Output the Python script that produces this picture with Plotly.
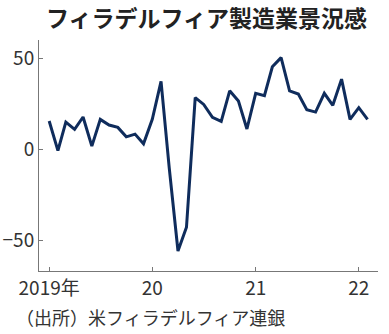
import plotly.graph_objects as go
import pandas as pd

months = pd.date_range("2019-01-01", periods=38, freq="MS").strftime("%Y-%m-%d").tolist()
values = [15.8, -0.5, 15.2, 11.2, 18.0, 2.0, 16.7, 13.6, 12.3, 7.1, 8.6, 3.3,
          16.7, 37.6, -10.0, -55.6, -42.6, 28.6, 24.9, 17.8, 15.6, 32.4, 26.8, 11.4,
          31.0, 29.7, 45.6, 50.6, 32.3, 30.6, 22.0, 20.7, 31.0, 24.4, 38.8, 16.7,
          23.1, 16.7]
tick_vals = ["2019-01-01", "2020-01-01", "2021-01-01", "2022-01-01"]
tick_text = ["2019年", "20", "21", "22"]
y_ticks = [-50, 0, 50]

title_text = "フィラデルフィア製造業景況感"
source_text = "（出所）米フィラデルフィア連銀"

font_family = "Liberation Sans Narrow, Noto Sans CJK JP, sans-serif"

W, H = 389, 334
L, R, T, B = 39, 11, 40, 63
pw, ph = W - L - R, H - T - B
def px(x): return (x - L) / pw
def py(y): return (H - B - y) / ph

fig = go.Figure()
fig.add_trace(go.Scatter(x=months, y=values, mode="lines",
                         line=dict(color="#0f2c5c", width=3), hoverinfo="skip"))

fig.update_layout(
    width=W, height=H,
    margin=dict(l=L, r=R, t=T, b=B, autoexpand=False),
    paper_bgcolor="white", plot_bgcolor="white",
    showlegend=False,
    font=dict(family=font_family, color="#333333", size=18),
    xaxis=dict(
        type="date", automargin=False,
        range=["2018-11-26", "2022-03-10"],
        tickvals=tick_vals, ticktext=tick_text,
        ticks="inside", ticklen=4, tickcolor="#777777",
        showline=True, linecolor="#777777", linewidth=1,
        showgrid=False, zeroline=False,
        tickfont=dict(size=19),
    ),
    yaxis=dict(
        automargin=False,
        range=[-66.6, 60.3],
        tickvals=y_ticks,
        ticks="inside", ticklen=4, tickcolor="#777777",
        showline=True, linecolor="#777777", linewidth=1,
        showgrid=False, zeroline=False,
        tickfont=dict(size=19),
    ),
)
fig.add_annotation(text="<b>" + title_text + "</b>", x=px(206), y=py(17),
                   xref="paper", yref="paper", xanchor="center", yanchor="middle",
                   showarrow=False,
                   font=dict(family="Noto Sans CJK JP", size=23, color="#222222"))
fig.add_annotation(text=source_text, x=px(14), y=py(317), xref="paper", yref="paper",
                   xanchor="left", yanchor="middle", showarrow=False,
                   font=dict(family="Noto Sans CJK JP", size=18, color="#333333"))

fig.write_html("out.html")
